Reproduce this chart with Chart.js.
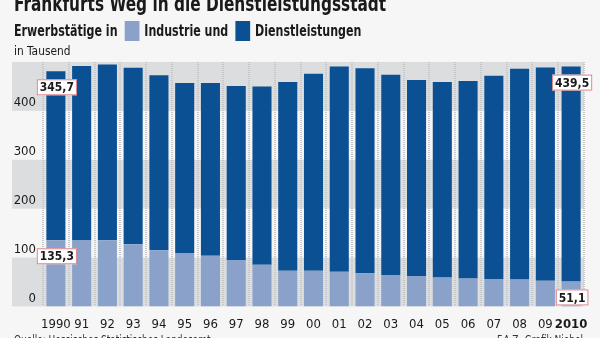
<!DOCTYPE html>
<html lang="de">
<head>
<meta charset="utf-8">
<script src="https://cdn.jsdelivr.net/npm/chart.js@4"></script>
<style>
  body { margin: 0; background: #f6f6f6; }
  #wrap { position: relative; width: 600px; height: 338px; overflow: hidden; background: #f6f6f6; }
  #chart { position: absolute; left: 0; top: 0; }
  .txt { position: absolute; left: 14px; white-space: nowrap; color: #1a1a1a; transform-origin: left top;
         font-family: "Liberation Sans Narrow", "DejaVu Sans Condensed", sans-serif; }
  .title { top: -8px; font-size: 22px; line-height: 23px; font-weight: bold; transform: scaleX(0.775); }
  .legend { top: 21px; font-size: 15px; line-height: 20px; font-weight: bold; transform: scaleX(0.82); }
  .legend i { display: inline-block; width: 18px; height: 20px; vertical-align: top; margin: 0 6px 0 4px; }
  .unit { top: 43px; font-size: 13px; line-height: 15px; transform: scaleX(0.91); }
  .src { top: 333px; font-size: 12px; line-height: 14px; color: #333; transform: scaleX(0.83); }
  .credit { top: 333px; left: 497px; font-size: 12px; line-height: 14px; color: #333; transform: scaleX(0.83); }
</style>
</head>
<body>
<div id="wrap">
  <canvas id="chart" width="600" height="338"></canvas>
  <div class="txt title">Frankfurts Weg in die Dienstleistungsstadt</div>
  <div class="txt legend">Erwerbstätige in <i style="background:#8aa1ca"></i>Industrie und <i style="background:#0b5092"></i>Dienstleistungen</div>
  <div class="txt unit">in Tausend</div>
  <div class="txt src">Quelle: Hessisches Statistisches Landesamt</div>
  <div class="txt credit">F.A.Z.-Grafik Niebel</div>
</div>
<script>
const years = ["1990", "91", "92", "93", "94", "95", "96", "97", "98", "99", "00",
  "01", "02", "03", "04", "05", "06", "07", "08", "09", "2010"];

// Erwerbstätige in Tausend
const industrie = [135.3, 135, 135.5, 127, 115, 109, 103.5, 95, 85, 73, 73,
  71, 68, 64, 62, 59, 57, 56, 55, 52.5, 51.1];
const dienstleistungen = [345.7, 357, 359.5, 361, 358, 348, 353.5, 356, 365, 386, 403,
  420, 419, 410, 401, 400, 404, 416, 431, 436.5, 439.5];

const yMax = 500;
const bandRanges = [[0, 100], [200, 300], [400, 500]];
const calloutIndexes = [0, 20];

const colors = {
  industrie: "#8aa1ca",
  dienst: "#0b5092",
  band: "#dcdddf",
  grid: "#c6c7c9",
  callout: "#d9868a",
};

const fontFamily = '"Liberation Sans Narrow", "DejaVu Sans Condensed", sans-serif';
const number = new Intl.NumberFormat("de-DE", { minimumFractionDigits: 1, maximumFractionDigits: 1 });

const bandsPlugin = {
  id: "bands",
  beforeDraw(chart) {
    const { ctx, chartArea, scales } = chart;
    ctx.save();
    ctx.fillStyle = colors.band;
    bandRanges.forEach(([from, to]) => {
      const top = scales.y.getPixelForValue(to);
      const bottom = scales.y.getPixelForValue(from);
      ctx.fillRect(chartArea.left - 31, top, chartArea.right - chartArea.left + 31, bottom - top);
    });
    ctx.restore();
  },
};

const calloutPlugin = {
  id: "callouts",
  afterDatasetsDraw(chart) {
    const { ctx } = chart;
    ctx.save();
    ctx.font = `bold 12px ${fontFamily}`;
    ctx.textAlign = "center";
    ctx.textBaseline = "middle";
    chart.data.datasets.forEach((dataset, di) => {
      const meta = chart.getDatasetMeta(di);
      calloutIndexes.forEach((index) => {
        const bar = meta.data[index];
        const text = number.format(dataset.data[index]);
        const w = ctx.measureText(text).width + 6;
        const h = 16;
        const cx = bar.x + 1;
        const cy = bar.y + 16;
        ctx.fillStyle = "#ffffff";
        ctx.fillRect(cx - w / 2, cy - h / 2, w, h);
        ctx.strokeStyle = colors.callout;
        ctx.lineWidth = 1;
        ctx.strokeRect(cx - w / 2 + 0.5, cy - h / 2 + 0.5, w - 1, h - 1);
        ctx.fillStyle = "#1a1a1a";
        ctx.fillText(text, cx, cy + 1);
      });
    });
    ctx.restore();
  },
};

new Chart(document.getElementById("chart"), {
  type: "bar",
  data: {
    labels: years,
    datasets: [
      {
        label: "Industrie",
        data: industrie,
        backgroundColor: colors.industrie,
        barPercentage: 0.74,
        categoryPercentage: 1,
      },
      {
        label: "Dienstleistungen",
        data: dienstleistungen,
        backgroundColor: colors.dienst,
        barPercentage: 0.74,
        categoryPercentage: 1,
      },
    ],
  },
  plugins: [bandsPlugin, calloutPlugin],
  options: {
    responsive: false,
    animation: false,
    devicePixelRatio: 1,
    layout: { padding: { top: 62, right: 16, left: 0, bottom: 0 } },
    plugins: { legend: { display: false }, tooltip: { enabled: false } },
    scales: {
      x: {
        stacked: true,
        afterFit(scale) { scale.height = 31.6; },
        grid: {
          offset: true,
          drawTicks: false,
          color: colors.grid,
          lineWidth: 2,
        },
        border: { display: false, dash: [1, 1] },
        ticks: {
          padding: 10,
          color: "#1a1a1a",
          maxRotation: 0,
          autoSkip: false,
          font: (ctx) => ({
            family: fontFamily,
            size: 13,
            weight: ctx.index === years.length - 1 ? "bold" : "normal",
          }),
        },
      },
      y: {
        stacked: true,
        min: 0,
        max: yMax,
        afterFit(scale) { scale.width = 43; },
        border: { display: false },
        grid: { display: false, drawTicks: false },
        ticks: {
          stepSize: 100,
          padding: 7,
          labelOffset: -8,
          color: "#1a1a1a",
          font: { family: fontFamily, size: 13 },
          callback: (value) => (value === yMax ? "" : value),
        },
      },
    },
  },
});
</script>
</body>
</html>
